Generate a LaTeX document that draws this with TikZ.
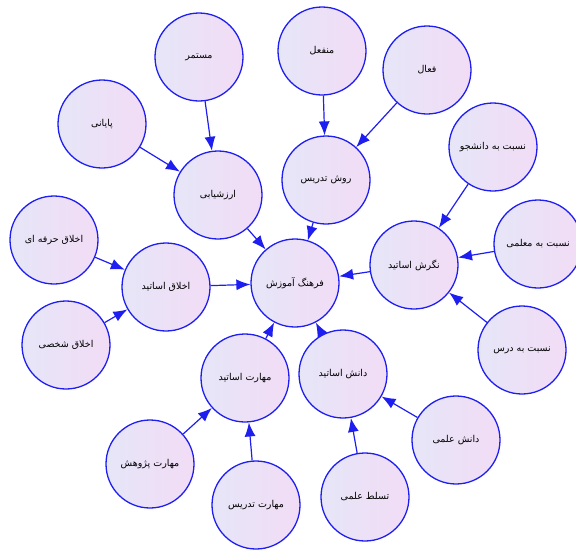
\documentclass[tikz,border=0pt]{standalone}
\usepackage{fontspec}
\usetikzlibrary{arrows.meta}
\TeXXeTstate=1
\newfontfamily\arabicfont[Script=Arabic]{DejaVu Sans}
\newcommand\fatext[1]{{\arabicfont\beginR #1\endR}}
\definecolor{edgeblue}{RGB}{30,30,240}
\definecolor{fillL}{RGB}{230,230,247}
\definecolor{fillR}{RGB}{242,220,246}
\tikzset{
  bub/.style={circle, draw=edgeblue, line width=1.3pt, minimum size=88pt, inner sep=0pt,
    left color=fillL, right color=fillR, font=\fontsize{9.5}{11}\selectfont},
  link/.style={draw=edgeblue, line width=1.2pt, -{Latex[length=14pt,width=11pt]}}
}
\begin{document}
\begin{tikzpicture}[x=1pt,y=-1pt]
\useasboundingbox (0,0) rectangle (576,550);
\node[bub] (center) at (295,283) {\fatext{فرهنگ آموزش}};
\node[bub] (arz) at (218,195) {\fatext{ارزشیابی}};
\node[bub] (mostamar) at (199,57) {\fatext{مستمر}};
\node[bub] (payani) at (102,124) {\fatext{پایانی}};
\node[bub] (ravesh) at (326,180) {\fatext{روش تدریس}};
\node[bub] (monfael) at (322,51) {\fatext{منفعل}};
\node[bub] (faal) at (427,70) {\fatext{فعال}};
\node[bub] (negaresh) at (414,265) {\fatext{نگرش اساتید}};
\node[bub] (daneshjoo) at (493,147) {\fatext{نسبت به دانشجو}};
\node[bub] (moalemi) at (538,244) {\fatext{نسبت به معلمی}};
\node[bub] (dars) at (522,350) {\fatext{نسبت به درس}};
\node[bub] (akhlagh) at (166,287) {\fatext{اخلاق اساتید}};
\node[bub] (herfe) at (54,240) {\fatext{اخلاق حرفه ای}};
\node[bub] (shakhsi) at (66,345) {\fatext{اخلاق شخصی}};
\node[bub] (maharat) at (245,378) {\fatext{مهارت اساتید}};
\node[bub] (pajohesh) at (150,464) {\fatext{مهارت پژوهش}};
\node[bub] (tadris) at (256,505) {\fatext{مهارت تدریس}};
\node[bub] (danesh) at (343,374) {\fatext{دانش اساتید}};
\node[bub] (tasalot) at (365,497) {\fatext{تسلط علمی}};
\node[bub] (elmi) at (456,440) {\fatext{دانش علمی}};
\draw[link] (mostamar) -- (arz);
\draw[link] (payani) -- (arz);
\draw[link] (arz) -- (center);
\draw[link] (monfael) -- (ravesh);
\draw[link] (faal) -- (ravesh);
\draw[link] (ravesh) -- (center);
\draw[link] (daneshjoo) -- (negaresh);
\draw[link] (moalemi) -- (negaresh);
\draw[link] (dars) -- (negaresh);
\draw[link] (negaresh) -- (center);
\draw[link] (herfe) -- (akhlagh);
\draw[link] (shakhsi) -- (akhlagh);
\draw[link] (akhlagh) -- (center);
\draw[link] (maharat) -- (center);
\draw[link] (danesh) -- (center);
\draw[link] (pajohesh) -- (maharat);
\draw[link] (tadris) -- (maharat);
\draw[link] (tasalot) -- (danesh);
\draw[link] (elmi) -- (danesh);
\end{tikzpicture}
\end{document}
